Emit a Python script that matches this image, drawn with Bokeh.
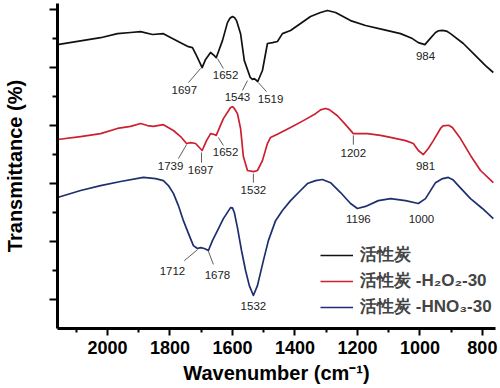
from bokeh.plotting import figure
from bokeh.models import Range1d, FixedTicker, Legend, LegendItem
from bokeh.core.properties import value
from bokeh.embed import file_html
from bokeh.resources import INLINE

# ---- data ----
ac_wn = [2160, 2022, 1968, 1926, 1894, 1856, 1821, 1792, 1766, 1741, 1728, 1715, 1697, 1686, 1670, 1658, 1652,
         1632, 1616, 1608, 1600, 1593, 1587, 1574, 1562, 1543, 1536, 1530, 1519, 1504, 1488, 1472, 1456, 1440,
         1414, 1382, 1350, 1318, 1296, 1270, 1222, 1174, 1117, 1062, 1024, 1005, 984, 973, 950, 940, 928, 915,
         902, 861, 822, 790, 765]
ac_t = [97.9, 100.3, 101.7, 102.1, 102.4, 101.4, 101.7, 100.0, 98.6, 97.2, 96.9, 94.1, 90.0, 92.8, 95.2, 94.1, 93.4,
        99.3, 105.5, 107.0, 107.6, 107.2, 106.2, 101.7, 92.4, 86.6, 85.9, 86.2, 85.2, 89.0, 98.3, 98.6, 99.0, 101.7,
        102.8, 105.2, 107.6, 109.0, 109.7, 109.0, 106.2, 104.5, 103.1, 101.7, 100.0, 98.6, 97.9, 99.3, 102.1, 102.7,
        102.8, 102.6, 101.7, 98.3, 94.1, 90.7, 88.3]

h2o2_wn = [2160, 2086, 2022, 1968, 1926, 1894, 1872, 1853, 1821, 1789, 1766, 1747, 1734, 1718, 1697, 1683, 1670,
           1658, 1652, 1629, 1606, 1600, 1594, 1584, 1574, 1565, 1552, 1532, 1520, 1504, 1488, 1478, 1453, 1414,
           1373, 1334, 1318, 1302, 1290, 1264, 1238, 1213, 1168, 1126, 1094, 1046, 1021, 1005, 989, 973, 957,
           934, 926, 918, 908, 896, 870, 838, 806, 765]
h2o2_t = [65.2, 66.2, 67.2, 69.0, 69.7, 70.7, 70.0, 69.7, 70.3, 68.3, 66.2, 63.8, 64.1, 63.8, 61.4, 64.8, 67.2,
          66.9, 66.6, 72.4, 76.2, 76.5, 75.9, 74.1, 69.0, 59.3, 54.5, 54.1, 54.5, 57.9, 63.8, 65.9, 67.2, 69.3,
          71.7, 74.1, 75.4, 75.9, 75.5, 73.4, 70.3, 67.2, 67.2, 66.6, 65.9, 64.8, 63.8, 61.4, 60.0, 62.1, 64.8,
          69.0, 69.9, 70.0, 70.1, 69.3, 65.5, 59.7, 54.5, 50.3]

hno3_wn = [2160, 2086, 2022, 1958, 1885, 1846, 1821, 1805, 1789, 1773, 1757, 1741, 1725, 1712, 1702, 1690, 1677,
           1664, 1648, 1629, 1606, 1600, 1594, 1584, 1571, 1558, 1546, 1533, 1520, 1501, 1485, 1462, 1440, 1414,
           1382, 1360, 1334, 1312, 1286, 1254, 1222, 1200, 1174, 1133, 1094, 1046, 1005, 982, 950, 930, 909, 893,
           877, 838, 800, 765]
hno3_t = [45.2, 47.6, 49.3, 50.7, 52.1, 51.7, 51.0, 49.3, 46.6, 42.4, 37.2, 32.8, 28.6, 27.6, 27.9, 27.6, 26.9,
          30.3, 33.8, 37.9, 41.7, 41.6, 40.0, 34.8, 26.9, 20.0, 14.8, 11.4, 14.8, 23.4, 30.3, 37.2, 40.7, 44.1,
          47.6, 50.0, 51.0, 51.4, 50.3, 46.9, 43.1, 41.4, 42.1, 44.1, 44.8, 44.1, 43.1, 44.8, 50.3, 51.6, 52.1,
          51.2, 49.3, 44.8, 41.4, 37.9]

series_names = ["活性炭", "活性炭 -H₂O₂-30", "活性炭 -HNO₃-30"]
series_colors = ["#111111", "#cc1f30", "#1f2f6e"]

# peak annotations: label text, label position, leader line ends
ann_text = ["1697", "1652", "1543", "1519", "984",
            "1739", "1697", "1652", "1532", "1202", "981",
            "1712", "1678", "1532", "1196", "1000"]
ann_x = [1754, 1622, 1584, 1478, 982,
         1798, 1702, 1622, 1533, 1213, 982,
         1792, 1648, 1533, 1197, 995]
ann_y = [82.4, 87.6, 80.0, 79.0, 94.1,
         56.2, 54.5, 61.0, 47.9, 60.7, 56.2,
         20.0, 18.3, 7.9, 37.9, 37.9]
lead_x0 = [1702, 1648, 1552, 1517, 1747, 1699, 1645, 1533, 1213, 1712, 1677]
lead_y0 = [89.7, 93.1, 85.5, 84.8, 63.4, 60.7, 65.9, 53.4, 66.6, 27.2, 26.6]
lead_x1 = [1741, 1629, 1568, 1491, 1773, 1699, 1629, 1533, 1213, 1754, 1661]
lead_y1 = [84.8, 89.7, 82.1, 81.7, 58.6, 57.2, 63.1, 50.3, 63.4, 23.4, 22.1]

x_major = [2000, 1800, 1600, 1400, 1200, 1000, 800]
x_minor = [2100, 1900, 1700, 1500, 1300, 1100, 900]
y_major = [10, 30, 50, 70, 90, 110]
y_minor = [20, 40, 60, 80, 100]

FONT = "Liberation Sans"

p = figure(width=500, height=388, output_backend="svg", toolbar_location=None,
           x_range=Range1d(2160, 758), y_range=Range1d(0, 112.1),
           min_border_left=57, min_border_right=5, min_border_top=3, min_border_bottom=60)
p.outline_line_color = None
p.grid.visible = False
p.background_fill_color = "white"

renderers = []
for wn, t, c in zip([ac_wn, h2o2_wn, hno3_wn], [ac_t, h2o2_t, hno3_t], series_colors):
    r = p.line(wn, t, line_color=c, line_width=1.7, line_join="round")
    renderers.append(r)

p.segment(x0=lead_x0, y0=lead_y0, x1=lead_x1, y1=lead_y1, line_color="#333333", line_width=0.8)
p.text(x=ann_x, y=ann_y, text=ann_text, text_font=value(FONT), text_font_size="11.5px",
       text_align="center", text_baseline="middle", text_color="#222222")

# axes
xa = p.xaxis[0]
xa.ticker = FixedTicker(ticks=x_major, minor_ticks=x_minor)
xa.axis_label = "Wavenumber (cm⁻¹)"
xa.axis_label_text_font = FONT
xa.axis_label_text_font_style = "bold"
xa.axis_label_text_font_size = "20px"
xa.axis_label_text_color = "black"
xa.axis_label_standoff = 5
xa.major_label_text_font = FONT
xa.major_label_text_font_style = "bold"
xa.major_label_text_font_size = "18px"
xa.major_label_text_color = "black"
xa.major_label_standoff = 5
xa.axis_line_width = 3
xa.major_tick_line_width = 2
xa.minor_tick_line_width = 2
xa.major_tick_out = 7
xa.major_tick_in = 0
xa.minor_tick_out = 4
xa.minor_tick_in = 0

ya = p.yaxis[0]
ya.ticker = FixedTicker(ticks=y_major, minor_ticks=y_minor)
ya.axis_label = "Transmittance (%)"
ya.axis_label_text_font = FONT
ya.axis_label_text_font_style = "bold"
ya.axis_label_text_font_size = "20px"
ya.axis_label_text_color = "black"
ya.major_label_overrides = {v: "" for v in y_major}
ya.major_label_standoff = 0
ya.axis_label_standoff = 24
ya.axis_line_width = 3
ya.major_tick_line_width = 2
ya.minor_tick_line_width = 2
ya.major_tick_out = 8
ya.major_tick_in = 0
ya.minor_tick_out = 5
ya.minor_tick_in = 0

legend = Legend(items=[LegendItem(label=n, renderers=[r]) for n, r in zip(series_names, renderers)],
                location=(263, 10), padding=0, margin=0, spacing=3,
                glyph_width=33, glyph_height=20, label_height=20, label_standoff=7,
                label_text_font=FONT, label_text_font_style="bold", label_text_font_size="17px",
                border_line_color=None, background_fill_alpha=0)
p.add_layout(legend, "center")

open("out.html", "w").write(file_html(p, INLINE))
